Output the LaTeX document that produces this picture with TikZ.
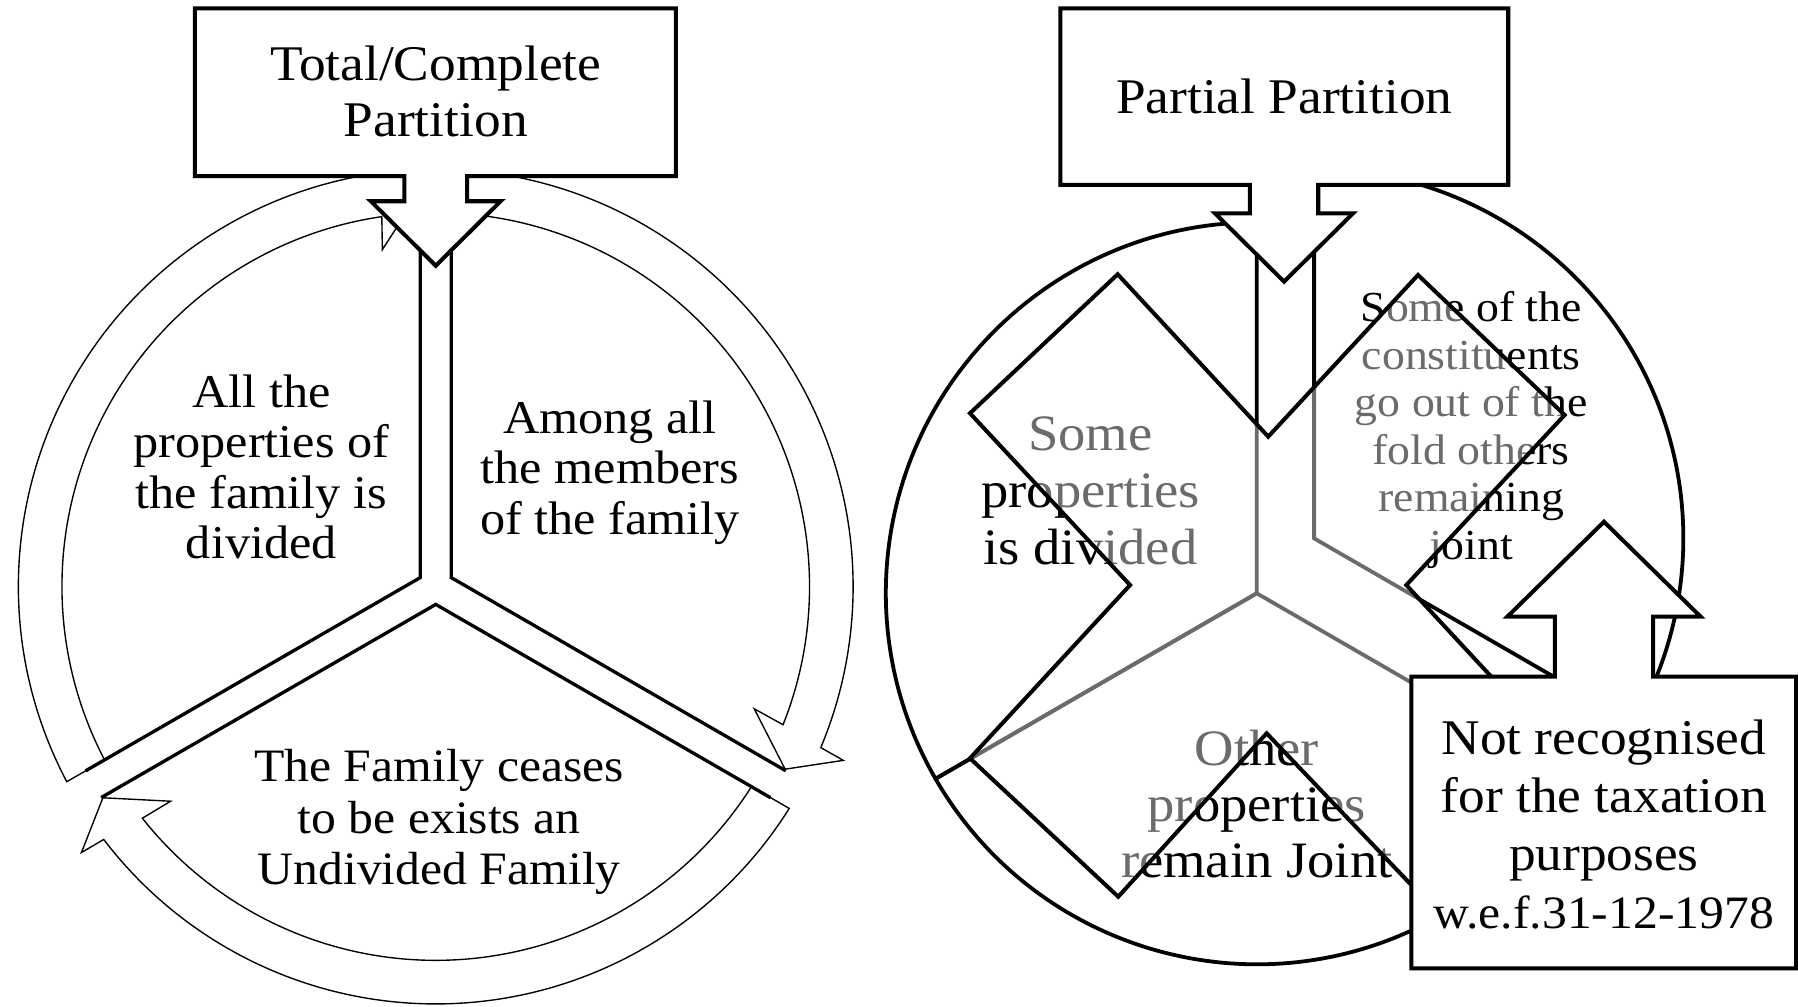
\documentclass[tikz,border=0pt]{standalone}
\usepackage{fontspec}
\setmainfont[FakeStretch=1.07]{Liberation Serif}
\usetikzlibrary{calc}
\newcommand{\DrawRingArrow}[2]{%
\draw[ringarrow] ($(#1)+({-207.88+#2}:364)$) arc[start angle={-207.88+#2}, end angle={-97.3+#2}, radius=364]
 -- ($(#1)+({-96.9+#2}:386.4)$) -- ($(#1)+({-92.4+#2}:343.8)$) -- ($(#1)+({-99.0+#2}:297.5)$) -- ($(#1)+({-98.3+#2}:326)$)
 arc[start angle={-98.3+#2}, end angle={-207.64+#2}, radius=326] -- cycle;}
\begin{document}
\begin{tikzpicture}[x=1pt,y=-1pt,
  callout/.style={draw=black,line width=3.5pt,fill=white,line join=miter},
  ringarrow/.style={draw=black,line width=1.2pt,fill=white,line join=miter},
  wedgeline/.style={draw=black,line width=2.9pt,line join=miter},
  rwedge/.style={draw=black,line width=3.3pt,line join=miter},
  zigzag/.style={draw=black,line width=3.5pt,fill=white,fill opacity=0.42,line join=miter},
  lbl/.style={align=center,inner sep=0pt,text=black}]
\useasboundingbox (0,0) rectangle (1568,878);
\fill[white] (0,0) rectangle (1568,878);
% ---------------- left diagram ----------------
\coordinate (CL) at (380,511.5);
\DrawRingArrow{CL}{0}
\DrawRingArrow{CL}{120}
\DrawRingArrow{CL}{240}
\draw[wedgeline] ($(CL)+(-92.24:345)$) -- ($(CL)+(-150:15.59)$) -- ($(CL)+(-207.76:345)$);
\draw[wedgeline] ($(CL)+(-87.76:345)$) -- ($(CL)+(-30:15.59)$) -- ($(CL)+(27.76:345)$);
\draw[wedgeline] ($(CL)+(147.76:345)$) -- ($(CL)+(90:15.59)$) -- ($(CL)+(32.24:345)$);
\node[lbl,font=\fontsize{41}{44}\selectfont] (t1) at (228,407) {All the\\properties of\\the family is\\divided};
\node[lbl,font=\fontsize{41}{44}\selectfont] (t2) at (532,412) {Among all\\the members\\of the family};
\node[lbl,font=\fontsize{40.5}{45}\selectfont] (t3) at (383,717) {The Family ceases\\to be exists an\\Undivided Family};
\draw[callout] (170,7.3) -- (589.5,7.3) -- (589.5,153.5) -- (407.3,153.5) -- (407.3,175.5) -- (436.6,175.5)
  -- (380,231.7) -- (323.4,175.5) -- (352.7,175.5) -- (352.7,153.5) -- (170,153.5) -- cycle;
\node[lbl,font=\fontsize{43.5}{49}\selectfont] (tc) at (380,80) {Total/Complete\\Partition};
% ---------------- right diagram ----------------
\coordinate (J) at (1096,517.4);
\coordinate (T) at (1146,469.5);
\draw[rwedge] (J) -- ($(J)+(-90:323.5)$) arc[start angle=-90, end angle=-210, radius=323.5] -- cycle;
\draw[rwedge] (J) -- ($(J)+(150:323.5)$) arc[start angle=150, end angle=30, radius=323.5] -- cycle;
\draw[rwedge] (T) -- ($(T)+(-90:322)$) arc[start angle=-90, end angle=30, radius=322] -- cycle;
\node[lbl,font=\fontsize{44.5}{50}\selectfont] (r1) at (951,428) {Some\\properties\\is divided};
\node[lbl,font=\fontsize{37.3}{41.5}\selectfont] (r2) at (1283,375) {Some of the\\constituents\\go out of the\\fold others\\remaining\\joint};
\node[lbl,font=\fontsize{44.5}{49}\selectfont] (r3) at (1096,701) {Other\\properties\\remain Joint};
\draw[zigzag] (974.7,239.2) -- (1106,380.8) -- (1236.6,239.8) -- (1364.5,361.9) -- (1226.4,510.2)
  -- (1300.5,590.1) -- (1320,700) -- (1230.8,771.8) -- (1104.6,639.5) -- (975.2,782)
  -- (845.9,661.3) -- (985.5,510.2) -- (845.9,360.4) -- cycle;
\draw[callout] (924.7,7.3) -- (1315.3,7.3) -- (1315.3,161.3) -- (1149.6,161.3) -- (1149.6,186) -- (1180,186)
  -- (1119.8,245.6) -- (1059.6,186) -- (1090,186) -- (1090,161.3) -- (924.7,161.3) -- cycle;
\node[lbl,font=\fontsize{43.5}{49}\selectfont] (pp) at (1120,84.3) {Partial Partition};
\draw[callout] (1230.8,590.1) -- (1355.9,590.1) -- (1355.9,537.8) -- (1314.5,537.8) -- (1398.8,455)
  -- (1483.1,537.8) -- (1441.7,537.8) -- (1441.7,590.1) -- (1566.3,590.1) -- (1566.3,844.5) -- (1230.8,844.5) -- cycle;
\node[lbl,font=\fontsize{43.5}{50.5}\selectfont] (nr) at (1398.7,719) {Not recognised\\for the taxation\\purposes\\{\fontsize{40.5}{50.5}\selectfont w.e.f.31-12-1978}};
\end{tikzpicture}
\end{document}
